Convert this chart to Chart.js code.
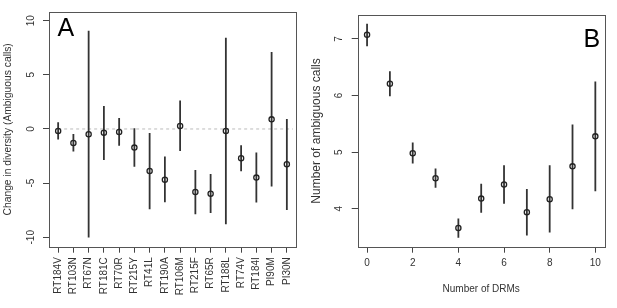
<!DOCTYPE html>
<html>
<head>
<meta charset="utf-8">
<script src="https://cdn.jsdelivr.net/npm/chart.js@4"></script>
<style>
  html, body { margin: 0; padding: 0; background: #fff; }
  #wrap { position: relative; width: 617px; height: 308px; }
  .panel { position: absolute; top: 0; height: 308px; }
</style>
</head>
<body>
<div id="wrap">
  <div class="panel" style="left:0;width:308px"><canvas id="chartA"></canvas></div>
  <div class="panel" style="left:308px;width:309px"><canvas id="chartB"></canvas></div>
</div>
<script>
// panel A: change in diversity per mutation
const mutations = ['RT184V', 'RT103N', 'RT67N', 'RT181C', 'RT70R', 'RT215Y', 'RT41L', 'RT190A',
  'RT106M', 'RT215F', 'RT65R', 'RT188L', 'RT74V', 'RT184I', 'PI90M', 'PI30N'];
const diffMean = [-0.18, -1.29, -0.49, -0.34, -0.28, -1.72, -3.88, -4.68, 0.28, -5.82, -5.97, -0.18, -2.71, -4.49, 0.89, -3.26];
const diffLow  = [-0.98, -2.09, -10.03, -2.86, -1.54, -3.48, -7.42, -6.77, -2.03, -7.88, -7.75, -8.8, -3.91, -6.8, -5.32, -7.48];
const diffHigh = [0.62, -0.46, 9.08, 2.12, 1.02, 0.06, -0.37, -2.55, 2.62, -3.78, -4.15, 8.43, -1.51, -2.18, 7.1, 0.92];
const yTicksA = [-10, -5, 0, 5, 10];

// panel B: ambiguous calls by number of DRMs
const drmCounts = [0, 1, 2, 3, 4, 5, 6, 7, 8, 9, 10];
const callsMean = [7.075, 6.21, 4.98, 4.54, 3.66, 4.18, 4.43, 3.94, 4.17, 4.75, 5.28];
const callsLow  = [6.87, 5.99, 4.80, 4.37, 3.49, 3.93, 4.09, 3.53, 3.58, 3.99, 4.31];
const callsHigh = [7.27, 6.43, 5.17, 4.71, 3.83, 4.44, 4.77, 4.35, 4.77, 5.49, 6.25];
const xTicksB = [0, 2, 4, 6, 8, 10];
const yTicksB = [4, 5, 6, 7];

Chart.defaults.font.family = '"Liberation Sans", Arial, sans-serif';
Chart.defaults.font.size = 10;
Chart.defaults.color = '#333';

function errorBars(xs, lo, hi) {
  const pts = [];
  xs.forEach((x, i) => {
    pts.push({ x: x, y: lo[i] }, { x: x, y: hi[i] }, { x: x, y: null });
  });
  return pts;
}

const frame = {
  id: 'frame',
  afterDraw(chart, args, opts) {
    const { ctx, chartArea: a } = chart;
    ctx.save();
    ctx.strokeStyle = '#555';
    ctx.lineWidth = 1;
    ctx.strokeRect(Math.round(a.left) + 0.5, Math.round(a.top) + 0.5,
      Math.round(a.right - a.left), Math.round(a.bottom - a.top));
    ctx.font = '25px "Liberation Sans", Arial, sans-serif';
    ctx.fillStyle = '#000';
    ctx.textAlign = 'left';
    ctx.textBaseline = 'alphabetic';
    ctx.fillText(opts.letter, opts.x, opts.y);
    ctx.restore();
  }
};

const tickGrid = { drawOnChartArea: false, tickLength: 6, color: '#444', lineWidth: 1 };

new Chart(document.getElementById('chartA'), {
  type: 'scatter',
  plugins: [frame],
  data: {
    datasets: [
      {
        data: mutations.map((m, i) => ({ x: i, y: diffMean[i] })),
        pointRadius: 2.6, pointBorderWidth: 1.3,
        pointBorderColor: '#222', pointBackgroundColor: 'rgba(0,0,0,0)',
        order: 0
      },
      {
        data: errorBars(mutations.map((m, i) => i), diffLow, diffHigh),
        showLine: true, spanGaps: false, pointRadius: 0,
        borderColor: '#333', borderWidth: 1.8,
        order: 1
      },
      {
        data: [{ x: 0, y: 0 }, { x: 15.4, y: 0 }],
        showLine: true, pointRadius: 0,
        borderColor: '#bbb', borderWidth: 1, borderDash: [3, 3],
        order: 2
      }
    ]
  },
  options: {
    responsive: true,
    maintainAspectRatio: false,
    animation: false,
    layout: { padding: { left: 0, top: 12, right: 12, bottom: 0 } },
    plugins: {
      legend: { display: false },
      tooltip: { enabled: false },
      frame: { letter: 'A', x: 57.5, y: 36 }
    },
    scales: {
      x: {
        type: 'linear', min: -0.6, max: 15.6,
        afterBuildTicks: s => { s.ticks = mutations.map((m, i) => ({ value: i })); },
        afterFit: s => { s.height = 61.3; },
        border: { display: false },
        grid: tickGrid,
        ticks: {
          autoSkip: false, minRotation: 90, maxRotation: 90, padding: 4.5,
          callback: v => mutations[v]
        }
      },
      y: {
        min: -10.87, max: 10.8,
        afterBuildTicks: s => { s.ticks = yTicksA.map(v => ({ value: v })); },
        afterFit: s => { s.width = 49; },
        border: { display: false },
        grid: tickGrid,
        ticks: { minRotation: 90, maxRotation: 90, crossAlign: 'center', padding: 4.5 },
        title: {
          display: true, text: 'Change in diversity (Ambiguous calls)',
          font: { size: 10.3 },
          padding: { top: 1.5, bottom: 0 }
        }
      }
    }
  }
});

new Chart(document.getElementById('chartB'), {
  type: 'scatter',
  plugins: [frame],
  data: {
    datasets: [
      {
        data: drmCounts.map((n, i) => ({ x: n, y: callsMean[i] })),
        pointRadius: 2.6, pointBorderWidth: 1.3,
        pointBorderColor: '#222', pointBackgroundColor: 'rgba(0,0,0,0)',
        order: 0
      },
      {
        data: errorBars(drmCounts, callsLow, callsHigh),
        showLine: true, spanGaps: false, pointRadius: 0,
        borderColor: '#333', borderWidth: 1.8,
        order: 1
      }
    ]
  },
  options: {
    responsive: true,
    maintainAspectRatio: false,
    animation: false,
    layout: { padding: { left: 0, top: 12, right: 12.3, bottom: 0 } },
    plugins: {
      legend: { display: false },
      tooltip: { enabled: false },
      frame: { letter: 'B', x: 275.5, y: 47 }
    },
    scales: {
      x: {
        type: 'linear', min: -0.41, max: 10.41,
        afterBuildTicks: s => { s.ticks = xTicksB.map(v => ({ value: v })); },
        afterFit: s => { s.height = 61.3; },
        border: { display: false },
        grid: tickGrid,
        ticks: { padding: 5 },
        title: {
          display: true, text: 'Number of DRMs',
          padding: { top: 0, bottom: 12.7 }
        }
      },
      y: {
        min: 3.33, max: 7.42,
        afterBuildTicks: s => { s.ticks = yTicksB.map(v => ({ value: v })); },
        afterFit: s => { s.width = 49.7; },
        border: { display: false },
        grid: tickGrid,
        ticks: { minRotation: 90, maxRotation: 90, crossAlign: 'center', padding: 9.2 },
        title: {
          display: true, text: 'Number of ambiguous calls',
          font: { size: 12 },
          padding: { top: 1, bottom: 0 }
        }
      }
    }
  }
});
</script>
</body>
</html>
